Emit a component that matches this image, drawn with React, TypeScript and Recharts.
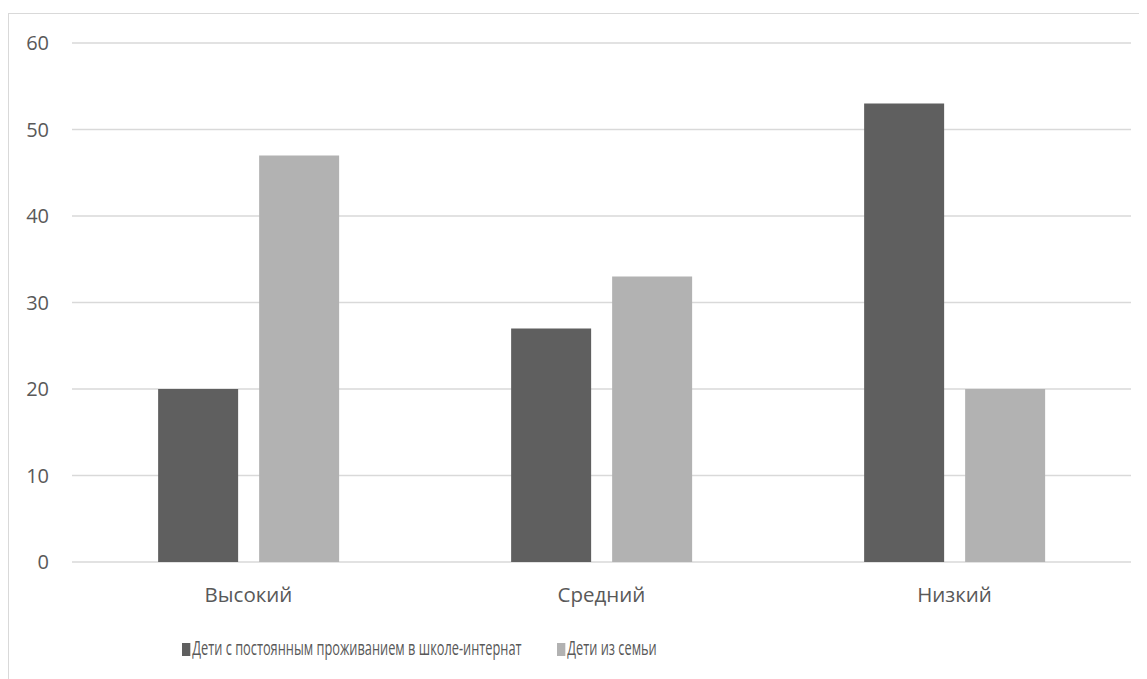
import { BarChart, Bar, XAxis, YAxis, CartesianGrid, Legend } from "recharts";

// levels and the two groups of children
const categories = ["Высокий", "Средний", "Низкий"];
const boarding = [20, 27, 53];
const family = [47, 33, 20];
const yTicks = [0, 10, 20, 30, 40, 50, 60];

const SERIES = [
  { key: "boarding", name: "Дети с постоянным проживанием в школе-интернат", color: "#5f5f5f" },
  { key: "family", name: "Дети из семьи", color: "#b2b2b2" },
];

const data = categories.map((name, i) => ({
  name,
  boarding: boarding[i],
  family: family[i],
}));

const FONT = "'Open Sans', sans-serif";
const TEXT = "#595959";

// legend in the original is squeezed horizontally
const SQUEEZE = 0.64;
const ITEM_LEFT = [0, 375];

const renderLegend = (props: any) => {
  const payload = [...(props.payload || [])].sort(
    (a: any, b: any) =>
      SERIES.findIndex((s) => s.key === a.dataKey) - SERIES.findIndex((s) => s.key === b.dataKey)
  );
  return (
    <div style={{ position: "relative", height: 30, fontFamily: FONT, fontSize: 20, color: TEXT }}>
      {payload.map((entry: any, i: number) => (
        <div
          key={`item-${i}`}
          style={{
            position: "absolute",
            left: ITEM_LEFT[i],
            top: 0,
            whiteSpace: "nowrap",
            transform: `scaleX(${SQUEEZE})`,
            transformOrigin: "left center",
            lineHeight: "30px",
          }}
        >
          <span
            style={{
              display: "inline-block",
              width: 13,
              height: 13,
              background: entry.color,
              marginRight: 3,
              verticalAlign: "-1px",
            }}
          />
          {entry.value}
        </div>
      ))}
    </div>
  );
};

const App = () => {
  return (
    <div style={{ position: "relative", width: 1139, height: 671, overflow: "hidden" }}>
      <div
        style={{
          position: "absolute",
          left: 0,
          top: 5,
          width: 1200,
          height: 720,
          border: "1.5px solid #d9d9d9",
          boxSizing: "border-box",
        }}
      />
      <BarChart
        width={1139}
        height={671}
        data={data}
        margin={{ top: 35, right: 16, left: 0, bottom: 16 }}
        barCategoryGap="24.4%"
        barGap={21}
        style={{ position: "absolute", left: 0, top: 0 }}
      >
        <CartesianGrid vertical={false} stroke="#d9d9d9" strokeWidth={1.5} />
        <XAxis
          dataKey="name"
          axisLine={false}
          tickLine={false}
          tickSize={0}
          tickMargin={25}
          height={71}
          tick={{ fill: TEXT, fontSize: 20.5, fontFamily: FONT }}
        />
        <YAxis
          domain={[0, 60]}
          ticks={yTicks}
          axisLine={false}
          tickLine={false}
          tickSize={0}
          tickMargin={23}
          width={64}
          tick={{ fill: TEXT, fontSize: 20, fontFamily: FONT }}
        />
        <Legend
          verticalAlign="bottom"
          height={30}
          content={renderLegend}
          wrapperStyle={{ left: 174, width: 600 }}
        />
        {SERIES.map((s) => (
          <Bar key={s.key} dataKey={s.key} name={s.name} fill={s.color} isAnimationActive={false} />
        ))}
      </BarChart>
    </div>
  );
};

export default App;
